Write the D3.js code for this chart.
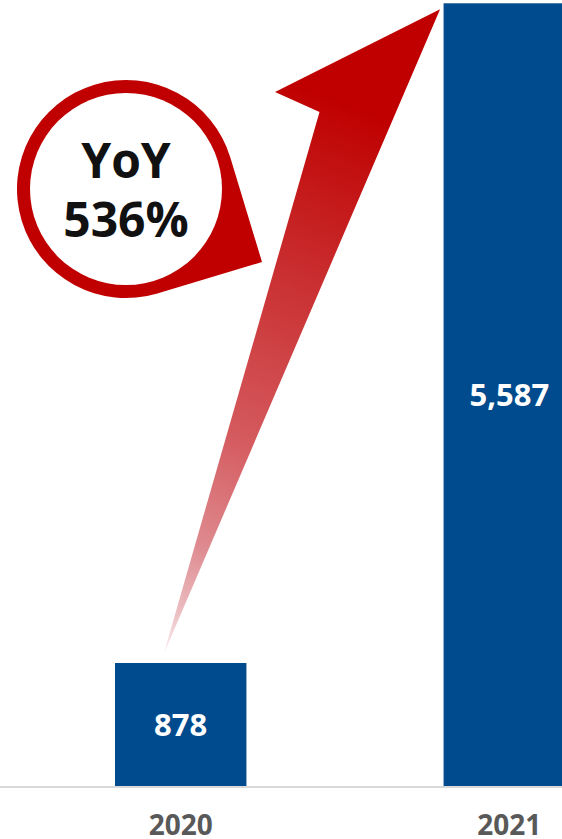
<!DOCTYPE html>
<html>
<head>
<meta charset="utf-8">
<script src="https://cdn.jsdelivr.net/npm/d3@7"></script>
<style>
  html, body { margin: 0; padding: 0; background: #ffffff; }
  svg { display: block; }
  text { font-family: "Open Sans", "Noto Sans", sans-serif; }
</style>
</head>
<body>
<svg id="chart" width="562" height="839"></svg>
<script>
// Yearly totals
const years = ["2020", "2021"];
const values = [878, 5587];
const valueLabels = ["878", "5,587"];
const yoyTitle = "YoY";

const W = 562, H = 839;
const svg = d3.select("#chart");

const x = d3.scaleBand()
  .domain(years)
  .range([115, 575])
  .paddingInner(0.6)
  .paddingOuter(0);

const y = d3.scaleLinear()
  .domain([0, d3.max(values)])
  .range([786, 3.3]);

const barColor = "#004B8D";

// Rising arrow gradient: solid red at the head, fading out toward the tail
const defs = svg.append("defs");
const grad = defs.append("linearGradient")
  .attr("id", "arrowGrad")
  .attr("gradientUnits", "userSpaceOnUse")
  .attr("x1", 378).attr("y1", 118)
  .attr("x2", 163).attr("y2", 655);
[
  [0, "#C00000"],
  [0.06, "#C10A0A"],
  [0.35, "#CB3537"],
  [0.6, "#D45A5E"],
  [0.8, "#DE8A8F"],
  [0.92, "#EBBDC1"],
  [1, "#FBF0F1"]
].forEach(([o, c]) => grad.append("stop").attr("offset", o).attr("stop-color", c));

// Bars
svg.append("g").selectAll("rect")
  .data(years)
  .join("rect")
  .attr("x", d => x(d))
  .attr("width", x.bandwidth())
  .attr("y", (d, i) => y(values[i]))
  .attr("height", (d, i) => y(0) - y(values[i]))
  .attr("fill", barColor);

// Baseline
svg.append("line")
  .attr("x1", 0).attr("x2", W)
  .attr("y1", y(0) + 1).attr("y2", y(0) + 1)
  .attr("stroke", "#D9D9D9")
  .attr("stroke-width", 2);

// Value labels centred inside each bar
svg.append("g").selectAll("text")
  .data(years)
  .join("text")
  .attr("x", d => x(d) + x.bandwidth() / 2)
  .attr("y", (d, i) => (y(values[i]) + y(0)) / 2)
  .attr("dy", "0.36em")
  .attr("text-anchor", "middle")
  .attr("fill", "#ffffff")
  .attr("font-weight", 700)
  .attr("font-size", 31)
  .text((d, i) => valueLabels[i]);

// Category axis labels
svg.append("g").selectAll("text")
  .data(years)
  .join("text")
  .attr("x", d => x(d) + x.bandwidth() / 2)
  .attr("y", 835)
  .attr("text-anchor", "middle")
  .attr("fill", "#595959")
  .attr("font-weight", 700)
  .attr("font-size", 28)
  .text(d => d);

// Arrow from the 2020 bar up to the top of the 2021 bar
const tail = [x(years[0]) + x.bandwidth() / 2 - 17, y(values[0]) - 9];
const tip = [x(years[1]) - 3.5, y(values[1]) + 6];
const barb = [275, 92];
const notch = [319.5, 112];
svg.append("path")
  .attr("d", d3.line()([tip, barb, notch, tail]) + "Z")
  .attr("fill", "url(#arrowGrad)");

// Callout bubble with growth rate
const growth = Math.round((values[1] / values[0] - 1) * 100);
const cx = 126, cy = 189, R = 109, r = 96;
const P = [262, 262];
const d = Math.hypot(P[0] - cx, P[1] - cy);
const base = Math.atan2(P[1] - cy, P[0] - cx);
const half = Math.acos(R / d);
const a1 = base - half, a2 = base + half;
const t1 = [cx + R * Math.cos(a1), cy + R * Math.sin(a1)];
const t2 = [cx + R * Math.cos(a2), cy + R * Math.sin(a2)];
const bubble = d3.path();
bubble.moveTo(t1[0], t1[1]);
bubble.lineTo(P[0], P[1]);
bubble.lineTo(t2[0], t2[1]);
bubble.arc(cx, cy, R, a2, a1 + 2 * Math.PI);
bubble.closePath();
svg.append("path").attr("d", bubble.toString()).attr("fill", "#C00000");
svg.append("circle").attr("cx", cx).attr("cy", cy).attr("r", r).attr("fill", "#ffffff");

svg.append("text")
  .attr("x", cx).attr("y", 178)
  .attr("text-anchor", "middle")
  .attr("font-weight", 700)
  .attr("font-size", 48)
  .attr("fill", "#111111")
  .text(yoyTitle);
svg.append("text")
  .attr("x", cx).attr("y", 237)
  .attr("text-anchor", "middle")
  .attr("font-weight", 700)
  .attr("font-size", 48)
  .attr("fill", "#111111")
  .text(growth + "%");
</script>
</body>
</html>
